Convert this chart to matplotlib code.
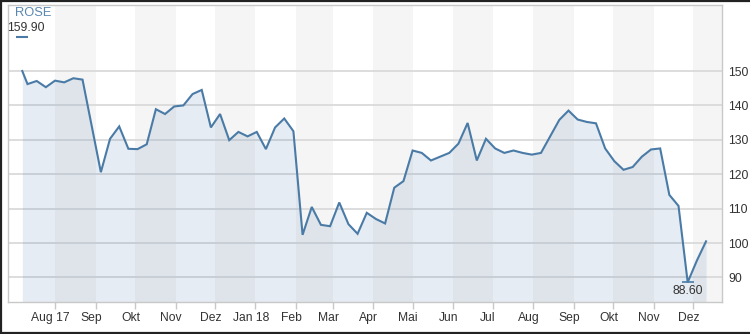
import matplotlib
matplotlib.use("Agg")
import matplotlib.pyplot as plt
import matplotlib.dates as mdates
from matplotlib.lines import Line2D
from matplotlib.transforms import ScaledTranslation
import pandas as pd
import numpy as np

plt.rcParams['font.family'] = ['Liberation Sans', 'DejaVu Sans']

# ---------------- data ----------------
series_name = "ROSE"
first_date = ["2017-07-07"]
weekly = pd.date_range("2017-07-11", "2018-12-11", freq="7D")
dates = pd.to_datetime(first_date).append(weekly[weekly != pd.Timestamp("2017-08-29")])

values = [150.0, 146.2, 147.1, 145.3, 147.2, 146.7, 147.9, 147.5, 120.6, 130.3,
          133.9, 127.4, 127.3, 128.7, 138.9, 137.5, 139.7, 140.0, 143.3, 144.5,
          133.6, 137.5, 129.9, 132.3, 131.0, 132.3, 127.3, 133.6, 136.2, 132.5,
          102.4, 110.5, 105.3, 104.9, 111.8, 105.5, 102.7, 108.8, 107.0, 105.7,
          116.1, 118.0, 126.9, 126.2, 124.0, 125.1, 126.2, 128.9, 134.9, 124.0,
          130.3, 127.5, 126.2, 126.9, 126.2, 125.7, 126.2, 131.0, 135.8, 138.5,
          135.9, 135.2, 134.8, 127.5, 123.8, 121.3, 122.1, 125.1, 127.2, 127.5,
          114.0, 110.8, 88.6, 94.9, 100.5]

max_value = 159.90
min_value = 88.60

month_starts = pd.date_range("2017-08-01", "2018-12-01", freq="MS")
month_labels = ["Aug 17", "Sep", "Okt", "Nov", "Dez", "Jan 18", "Feb", "Mar", "Apr",
                "Mai", "Jun", "Jul", "Aug", "Sep", "Okt", "Nov", "Dez"]
y_ticks = [90, 100, 110, 120, 130, 140, 150]

# ---------------- style ----------------
line_color = "#4a7ba6"
fill_color = "#4572a7"
band_color = "#f5f5f5"
grid_color = "#dadada"
axis_color = "#c8c8c8"
text_color = "#333333"

W, H = 750, 334
fig = plt.figure(figsize=(W / 100, H / 100), dpi=100)
ax = fig.add_axes([8 / W, 32 / H, 714 / W, 297 / H])

aug1 = mdates.date2num(pd.Timestamp("2017-08-01"))
ax.set_xlim(aug1 - 35.9, aug1 + 509.2)
ax.set_ylim(82.88, 169.18)
ymin = ax.get_ylim()[0]

# alternating month bands
band_edges = pd.date_range("2017-07-01", "2019-01-01", freq="MS")
for i in range(len(band_edges) - 1):
    if i % 2 == 1:
        ax.axvspan(band_edges[i], band_edges[i + 1], color=band_color, lw=0, zorder=0.1)

ax.set_axisbelow(True)
ax.yaxis.grid(True, color=grid_color, lw=1.3, zorder=0.5)
ax.xaxis.grid(False)

ax.fill_between(dates, values, ymin, color=fill_color, alpha=0.13, lw=0, zorder=2)
ax.plot(dates, values, color=line_color, lw=1.5, zorder=3, solid_joinstyle='miter')

# max / min markers
ax.plot([dates[0]], [max_value], marker='_', ms=9, mew=1.5, color=line_color, zorder=4)
ax.annotate(f"{max_value:.2f}", (dates[0], max_value), xytext=(3.5, 8.7),
            textcoords='offset pixels', ha='center', va='center',
            fontsize=8.7, color=text_color)
imin = int(np.argmin(values))
ax.plot([dates[imin]], [min_value], marker='_', ms=9, mew=1.2, color=line_color, zorder=4)
ax.annotate(f"{min_value:.2f}", (dates[imin], min_value), xytext=(0, -8.7),
            textcoords='offset pixels', ha='center', va='center',
            fontsize=8.7, color=text_color)

# axes
ax.set_xticks(month_starts)
ax.set_xticklabels(month_labels)
ax.tick_params(axis='x', length=5, width=1, color=axis_color, pad=2.5,
               labelsize=8.7, labelcolor=text_color)
offset = ScaledTranslation(-4.5 / 100, 0, fig.dpi_scale_trans)
for lab in ax.get_xticklabels():
    lab.set_transform(lab.get_transform() + offset)

ax.yaxis.tick_right()
ax.set_yticks(y_ticks)
ax.set_yticklabels([str(v) for v in y_ticks])
ax.tick_params(axis='y', length=0, pad=4.5, labelsize=8.7, labelcolor=text_color)

for s in ax.spines.values():
    s.set_color(axis_color)
    s.set_linewidth(1.0)

fig.text(15 / W, 1 - 13 / H, series_name, ha='left', va='center',
         fontsize=9.3, color="#5a87b0")

# outer dark frame (left, top, bottom)
frame_kw = dict(transform=fig.transFigure, color="#222222", lw=1.6)
fig.add_artist(Line2D([0.6 / W, 0.6 / W], [0, 1], **frame_kw))
fig.add_artist(Line2D([0, 1], [1 - 0.6 / H, 1 - 0.6 / H], **frame_kw))
fig.add_artist(Line2D([0, 1], [1.2 / H, 1.2 / H], **frame_kw))

fig.savefig("out.png", dpi=100)
